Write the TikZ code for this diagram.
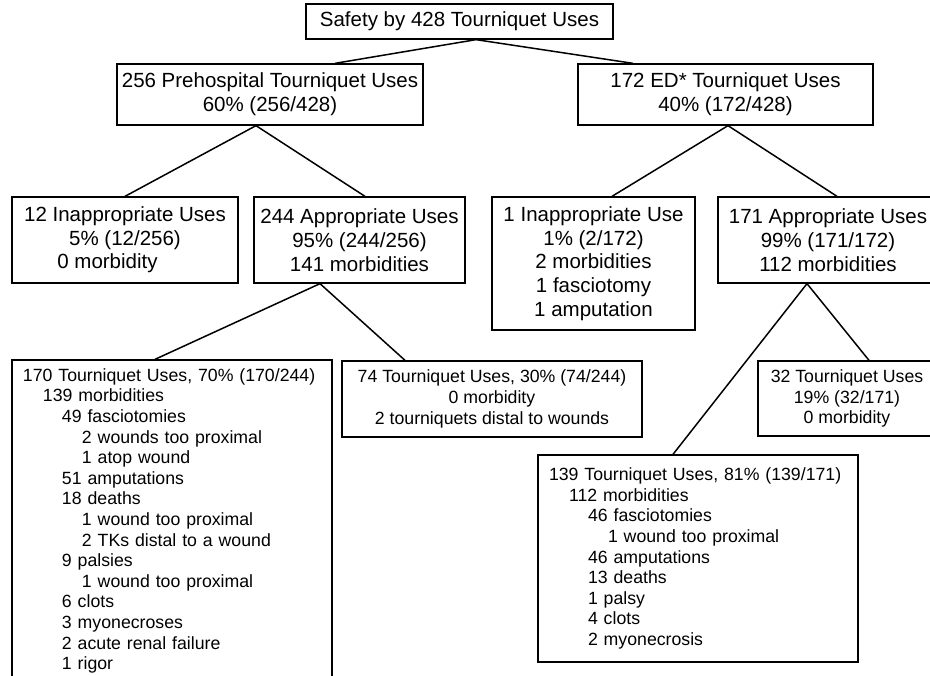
\documentclass[tikz,border=0pt]{standalone}
\usepackage{fontspec}
\setmainfont{Liberation Sans}
\usetikzlibrary{calc}
\tikzset{
  box/.style={draw, line width=1.3pt, rectangle, inner sep=0pt, align=center},
  big/.style={font=\fontsize{20.5}{23.7}\selectfont},
  small/.style={font=\fontsize{17.7}{20.6}\selectfont},
  listbox/.style={box, small, align=left, inner xsep=11pt, inner ysep=0pt},
  link/.style={line width=1.5pt},
}
\newcommand{\ind}[1]{\hspace*{#1pt}}
\begin{document}
\begin{tikzpicture}[x=1pt,y=-1pt]
\useasboundingbox (0,0) rectangle (930,676);
\clip (0,0) rectangle (930,676);
\fill[white] (0,0) rectangle (930,676);

\node[box,big,minimum width=307pt,minimum height=35pt] (top) at (459.5,21.5) {Safety by 428 Tourniquet Uses};
\node[box,big,minimum width=306pt,minimum height=61pt] (pre) at (270,94.5) {256 Prehospital Tourniquet Uses\\60\% (256/428)};
\node[box,big,minimum width=295pt,minimum height=61pt] (ed) at (725.5,94.5) {172 ED* Tourniquet Uses\\40\% (172/428)};

\node[box,big,minimum width=226pt,minimum height=86pt] (inapp12) at (125,240) {12 Inappropriate Uses\\5\% (12/256)\\0 morbidity\ind{35}};
\node[box,big,minimum width=211pt,minimum height=86pt] (app244) at (359.5,240) {244 Appropriate Uses\\95\% (244/256)\\141 morbidities};
\node[box,big,minimum width=203pt,minimum height=133pt] (inapp1) at (593.5,263.5) {1 Inappropriate Use\\1\% (2/172)\\2 morbidities\\1 fasciotomy\\1 amputation};
\node[box,big,minimum width=220pt,minimum height=86pt] (app171) at (828,240) {171 Appropriate Uses\\99\% (171/172)\\112 morbidities};

\node[listbox,text width=298pt,minimum height=322pt] (b170) at (172,521) {170 Tourniquet Uses, 70\% (170/244)\\
\ind{20}139 morbidities\\
\ind{39}49 fasciotomies\\
\ind{59}2 wounds too proximal\\
\ind{59}1 atop wound\\
\ind{39}51 amputations\\
\ind{39}18 deaths\\
\ind{59}1 wound too proximal\\
\ind{59}2 TKs distal to a wound\\
\ind{39}9 palsies\\
\ind{59}1 wound too proximal\\
\ind{39}6 clots\\
\ind{39}3 myonecroses\\
\ind{39}2 acute renal failure\\
\ind{39}1 rigor};

\node[box,small,minimum width=300pt,minimum height=76pt] (b74) at (492,399) {74 Tourniquet Uses, 30\% (74/244)\\0 morbidity\\2 tourniquets distal to wounds};
\node[box,small,minimum width=178pt,minimum height=75pt] (b32) at (847,398.5) {32 Tourniquet Uses\\19\% (32/171)\\0 morbidity};

\node[listbox,text width=298pt,minimum height=207pt] (b139) at (698,558.5) {139 Tourniquet Uses, 81\% (139/171)\\
\ind{20}112 morbidities\\
\ind{39}46 fasciotomies\\
\ind{59}1 wound too proximal\\
\ind{39}46 amputations\\
\ind{39}13 deaths\\
\ind{39}1 palsy\\
\ind{39}4 clots\\
\ind{39}2 myonecrosis};

\draw[link] ($(top.south)+(16.5,0)$) -- ($(pre.north)+(65,0)$);
\draw[link] ($(top.south)+(16.5,0)$) -- ($(ed.north)+(-92.5,0)$);
\draw[link] ($(pre.south)+(-14,0)$) -- (inapp12.north);
\draw[link] ($(pre.south)+(-14,0)$) -- ($(app244.north)+(5.5,0)$);
\draw[link] ($(ed.south)+(2.5,0)$) -- ($(inapp1.north)+(18.5,0)$);
\draw[link] ($(ed.south)+(2.5,0)$) -- ($(app171.north)+(9,0)$);
\draw[link] ($(app244.south)+(-39.5,0)$) -- ($(b170.north)+(-17,0)$);
\draw[link] ($(app244.south)+(-39.5,0)$) -- ($(b74.north)+(-87,0)$);
\draw[link] ($(app171.south)+(-21,0)$) -- ($(b139.north)+(-25,0)$);
\draw[link] ($(app171.south)+(-21,0)$) -- ($(b32.north)+(22,0)$);
\end{tikzpicture}
\end{document}
